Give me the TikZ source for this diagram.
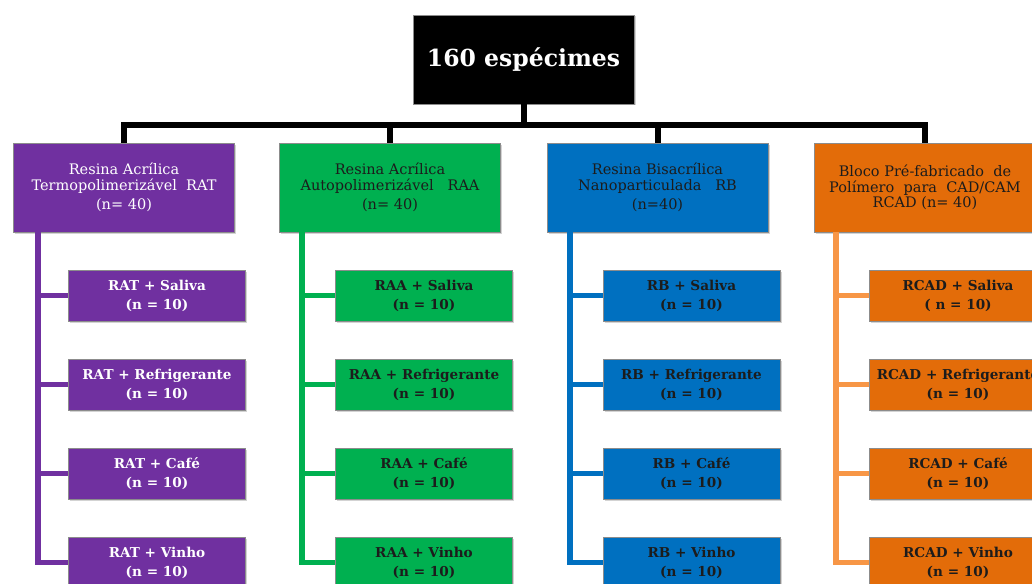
\documentclass[tikz,border=0pt]{standalone}
\usepackage{fontspec}
\setmainfont{DejaVu Serif}
\usetikzlibrary{shadows}
\definecolor{cpurple}{HTML}{7030A0}
\definecolor{cgreen}{HTML}{00B050}
\definecolor{cblue}{HTML}{0070C0}
\definecolor{corange}{HTML}{E36C09}
\definecolor{corangel}{HTML}{F79646}
\definecolor{ctextdark}{HTML}{1C1C1C}
\tikzset{
  box/.style={rectangle, draw=black!45, line width=0.6pt, align=center, inner sep=0pt,
    drop shadow={opacity=0.35, shadow xshift=1.5pt, shadow yshift=-1.5pt}},
  topbox/.style={box, fill=black, text=white, minimum width=221pt, minimum height=89pt,
    font=\fontsize{23.5}{28}\selectfont\bfseries},
  catbox/.style={box, minimum width=221pt, minimum height=89pt,
    font=\fontsize{14.5}{15.2}\selectfont},
  subbox/.style={box, minimum width=177pt, minimum height=51pt,
    font=\fontsize{13.6}{19}\selectfont\bfseries},
  purplebox/.style={fill=cpurple, text=white},
  greenbox/.style={fill=cgreen, text=ctextdark},
  bluebox/.style={fill=cblue, text=ctextdark},
  orangebox/.style={fill=corange, text=ctextdark},
  bus/.style={line width=6pt, black},
  spine/.style={line width=5.5pt},
}
\begin{document}
\begin{tikzpicture}[x=1pt,y=-1pt]
\useasboundingbox (0,0) rectangle (1032,583);
\clip (0,0) rectangle (1032,583);
% top
\node[topbox] (top) at (523.5,59.5) {160 espécimes};
% categories
\node[catbox,purplebox] (c1) at (124,187.5) {Resina Acrílica\\Termopolimerizável\ \ RAT\\[4pt](n= 40)};
\node[catbox,greenbox] (c2) at (390,187.5) {Resina Acrílica\\Autopolimerizável\ \ \ RAA\\[4pt](n= 40)};
\node[catbox,bluebox] (c3) at (657.5,187.5) {Resina Bisacrílica\\Nanoparticulada\ \ \ RB\\[4pt](n=40)};
\node[catbox,orangebox] (c4) at (925,187.5) {Bloco Pré-fabricado\ \ de\\Polímero\ \ para\ \ CAD/CAM\\RCAD (n= 40)};
% children
\node[subbox,purplebox] (a1) at (157,295.5) {RAT + Saliva\\(n = 10)};
\node[subbox,purplebox] (a2) at (157,384.5) {RAT + Refrigerante\\(n = 10)};
\node[subbox,purplebox] (a3) at (157,473.5) {RAT + Café\\(n = 10)};
\node[subbox,purplebox] (a4) at (157,562.5) {RAT + Vinho\\(n = 10)};
\node[subbox,greenbox] (b1) at (424,295.5) {RAA + Saliva\\(n = 10)};
\node[subbox,greenbox] (b2) at (424,384.5) {RAA + Refrigerante\\(n = 10)};
\node[subbox,greenbox] (b3) at (424,473.5) {RAA + Café\\(n = 10)};
\node[subbox,greenbox] (b4) at (424,562.5) {RAA + Vinho\\(n = 10)};
\node[subbox,bluebox] (d1) at (691.5,295.5) {RB + Saliva\\(n = 10)};
\node[subbox,bluebox] (d2) at (691.5,384.5) {RB + Refrigerante\\(n = 10)};
\node[subbox,bluebox] (d3) at (691.5,473.5) {RB + Café\\(n = 10)};
\node[subbox,bluebox] (d4) at (691.5,562.5) {RB + Vinho\\(n = 10)};
\node[subbox,orangebox] (e1) at (958,295.5) {RCAD + Saliva\\( n = 10)};
\node[subbox,orangebox] (e2) at (958,384.5) {RCAD + Refrigerante\\(n = 10)};
\node[subbox,orangebox] (e3) at (958,473.5) {RCAD + Café\\(n = 10)};
\node[subbox,orangebox] (e4) at (958,562.5) {RCAD + Vinho\\(n = 10)};
% black bus
\coordinate (bar) at (523.5,125);
\draw[bus] (top.south) -- (bar);
\draw[bus] (c1.north) |- (bar) -| (c4.north);
\draw[bus] (c2.north) -- (c2.north |- bar);
\draw[bus] (c3.north) -- (c3.north |- bar);
% spines
\path (c1.south west) ++(25,0) coordinate (s1);
\path (c2.south west) ++(23,0) coordinate (s2);
\path (c3.south west) ++(23.5,0) coordinate (s3);
\path (c4.south west) ++(22,0) coordinate (s4);
\draw[spine,cpurple] (s1) |- (a4.west);
\draw[spine,cgreen] (s2) |- (b4.west);
\draw[spine,cblue] (s3) |- (d4.west);
\draw[spine,corangel] (s4) |- (e4.west);
\foreach \i in {1,2,3}{
  \draw[spine,cpurple] (a\i.west) -- (a\i.west -| s1);
  \draw[spine,cgreen] (b\i.west) -- (b\i.west -| s2);
  \draw[spine,cblue] (d\i.west) -- (d\i.west -| s3);
  \draw[spine,corangel] (e\i.west) -- (e\i.west -| s4);
}
\end{tikzpicture}
\end{document}
